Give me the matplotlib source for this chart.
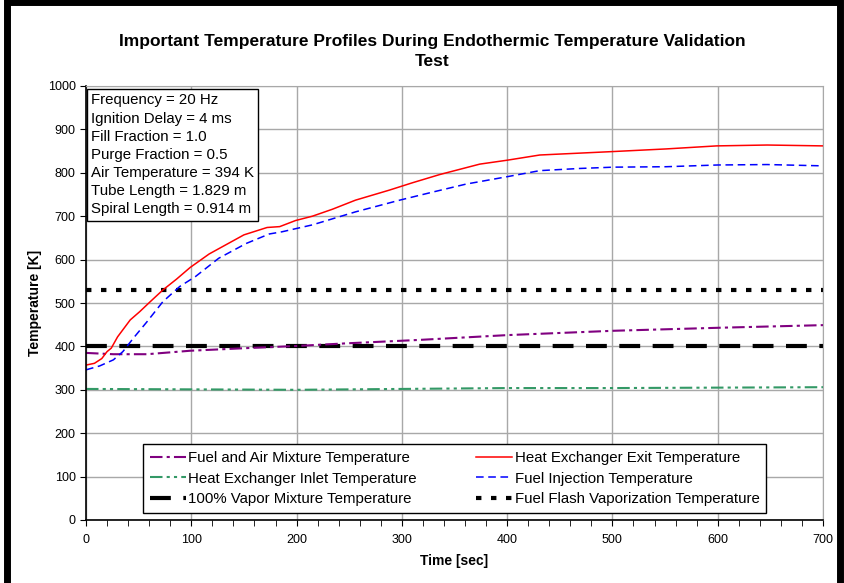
import matplotlib
matplotlib.use("Agg")
import matplotlib.pyplot as plt
from matplotlib.patches import Rectangle

plt.rcParams["font.family"] = ["Liberation Sans", "DejaVu Sans"]

# valores
red_t = [0, 8, 15, 20, 24, 30, 42, 51, 61, 73, 86, 99, 117, 150, 172, 184, 199, 215, 234, 256, 288, 310, 336, 374, 400, 431, 501, 551, 599, 647, 700]
red_v = [357, 361, 372, 388, 396, 422, 461, 480, 503, 530, 555, 582, 613, 657, 674, 676, 690, 700, 716, 737, 760, 777, 796, 820, 829, 841, 849, 855, 862, 864, 862]

blue_t = [0, 13, 26, 35, 45, 58, 73, 89, 104, 126, 152, 174, 186, 215, 256, 298, 330, 361, 400, 431, 469, 501, 551, 600, 647, 700]
blue_v = [346, 355, 369, 388, 419, 457, 503, 538, 561, 603, 637, 659, 664, 680, 710, 737, 756, 774, 791, 805, 810, 813, 814, 818, 819, 816]

purple_t = [0, 26, 58, 99, 152, 200, 247, 317, 400, 501, 602, 700]
purple_v = [385, 382, 382, 390, 396, 401, 407, 415, 426, 436, 443, 449]

green_t = [0, 100, 200, 300, 400, 500, 600, 700]
green_v = [302, 301, 300, 302, 304, 304, 305, 306]

vapor_temp = 400
flash_temp = 530

info = ["Frequency = 20 Hz", "Ignition Delay = 4 ms", "Fill Fraction = 1.0",
        "Purge Fraction = 0.5", "Air Temperature = 394 K",
        "Tube Length = 1.829 m", "Spiral Length = 0.914 m"]

fig = plt.figure(figsize=(8.45, 5.83), dpi=100)
ax = fig.add_axes([86/845, 1-520/583, 737/845, 434/583])

# borde negro de la figura
fig.patches.append(Rectangle((0.008, -0.05), 0.986, 1.046, transform=fig.transFigure,
                             fill=False, edgecolor="black", linewidth=5, zorder=-1))

l_vapor = ax.axhline(vapor_temp, color="black", lw=3, dashes=(5, 3))
l_flash = ax.axhline(flash_temp, color="black", lw=3, dashes=(1.3, 2.3))
l_purple, = ax.plot(purple_t, purple_v, color="#800080", lw=1.5, dashes=(6, 2, 1.5, 2))
l_red, = ax.plot(red_t, red_v, color="#ff0000", lw=1.1)
l_green, = ax.plot(green_t, green_v, color="#339966", lw=1.5, dashes=(6, 2, 1.5, 2, 1.5, 2))
l_blue, = ax.plot(blue_t, blue_v, color="#0000ff", lw=1.1, dashes=(5, 3))

ax.set_xlim(0, 700)
ax.set_ylim(0, 1000)
ax.set_xticks(range(0, 701, 100))
ax.set_xticks(range(0, 701, 20), minor=True)
ax.set_yticks(range(0, 1001, 100))
ax.grid(True, which="major", color="#a8a8a8", lw=1)
ax.set_axisbelow(True)
ax.tick_params(which="both", direction="out", length=4, labelsize=9, colors="black")
ax.tick_params(axis="x", pad=6)
for s in ["top", "right"]:
    ax.spines[s].set_color("#a8a8a8")
for s in ["left", "bottom"]:
    ax.spines[s].set_linewidth(1.2)

ax.set_xlabel("Time [sec]", fontsize=10, fontweight="bold", labelpad=6)
ax.set_ylabel("Temperature [K]", fontsize=10, fontweight="bold", labelpad=4)
fig.text(0.5115, 0.912, "Important Temperature Profiles During Endothermic Temperature Validation\nTest",
         ha="center", va="center", fontsize=12.5, fontweight="bold", linespacing=1.4)

ax.text(0.007, 0.983, "\n".join(info), transform=ax.transAxes, va="top", ha="left",
        fontsize=10.8, linespacing=1.38,
        bbox=dict(boxstyle="square,pad=0.27", facecolor="white", edgecolor="black", lw=1))

handles = [l_purple, l_green, l_vapor, l_red, l_blue, l_flash]
labels = ["Fuel and Air Mixture Temperature", "Heat Exchanger Inlet Temperature",
          "100% Vapor Mixture Temperature", "Heat Exchanger Exit Temperature",
          "Fuel Injection Temperature", "Fuel Flash Vaporization Temperature"]
leg = ax.legend(handles, labels, ncol=2, loc="lower center", bbox_to_anchor=(0.5, 0.016),
                fontsize=10.8, frameon=True, fancybox=False, edgecolor="black", framealpha=1,
                handlelength=2.4, handletextpad=0.2, columnspacing=3.9, labelspacing=0.45,
                borderpad=0.45, borderaxespad=0)
leg.get_frame().set_linewidth(1)

fig.savefig("out.png", dpi=100)
